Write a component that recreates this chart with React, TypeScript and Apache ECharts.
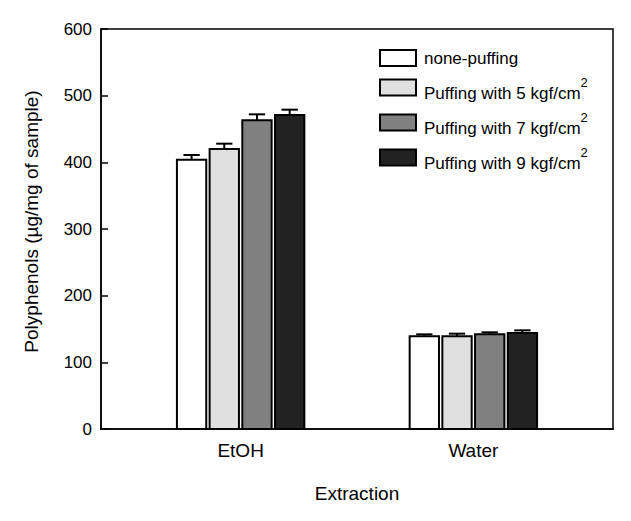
import React, { useEffect, useRef } from "react";
import * as echarts from "echarts";

const categories = ["EtOH", "Water"];
const seriesNames = ["none-puffing", "Puffing with 5 kgf/cm", "Puffing with 7 kgf/cm", "Puffing with 9 kgf/cm"];
const nonePuffing = [404, 139];
const puff5 = [420, 139];
const puff7 = [463, 142];
const puff9 = [471, 144];
const errNone = [7, 3];
const err5 = [8, 4];
const err7 = [9, 3];
const err9 = [8, 4];
const yTicks = [0, 100, 200, 300, 400, 500, 600];

const colors = ["#ffffff", "#e0e0e0", "#808080", "#222222"];
const FONT = "'Liberation Sans', Arial, sans-serif";

export default function App() {
  const ref = useRef<HTMLDivElement>(null);
  useEffect(() => {
    if (!ref.current) return;
    const chart = echarts.init(ref.current, null, { renderer: "svg" });
    const values = [nonePuffing, puff5, puff7, puff9];
    const errs = [errNone, err5, err7, err9];
    const pitch = 0.1405;
    const barFrac = 0.126;
    const capFrac = 0.07;

    const makeRender = (s: number) => (params: any, api: any) => {
      const x = api.value(0);
      const v = api.value(1);
      const e = api.value(2);
      const unit = api.size([1, 0])[0];
      const cx = api.coord([x, 0])[0] + (s - 1.5) * pitch * unit;
      const base = api.coord([x, 0])[1];
      const top = api.coord([x, v])[1];
      const errTop = api.coord([x, v + e])[1];
      const w = barFrac * unit;
      const cap = capFrac * unit;
      return {
        type: "group",
        children: [
          {
            type: "line",
            shape: { x1: cx, y1: top, x2: cx, y2: errTop },
            style: { stroke: "#000", lineWidth: 2 },
          },
          {
            type: "line",
            shape: { x1: cx - cap / 2, y1: errTop, x2: cx + cap / 2, y2: errTop },
            style: { stroke: "#000", lineWidth: 2 },
          },
          {
            type: "rect",
            shape: { x: cx - w / 2, y: top, width: w, height: base - top },
            style: { fill: colors[s], stroke: "#000", lineWidth: 2 },
          },
        ],
      };
    };

    const series = values.map((vals, s) => ({
      type: "custom",
      name: seriesNames[s],
      renderItem: makeRender(s),
      itemStyle: { color: colors[s], borderColor: "#000", borderWidth: 2 },
      encode: { x: 0, y: 1 },
      data: vals.map((v, i) => [i + 1, v, errs[s][i]]),
      z: 3,
    }));

    chart.setOption({
      animation: false,
      textStyle: { fontFamily: FONT, color: "#000" },
      grid: {
        left: 101,
        top: 29,
        right: 18,
        bottom: 92,
        show: true,
        borderColor: "#000",
        borderWidth: 1.5,
        backgroundColor: "transparent",
        z: 10,
      },
      legend: {
        orient: "vertical",
        left: 374,
        top: 44,
        icon: "rect",
        itemWidth: 36,
        itemHeight: 16,
        itemGap: 6,
        itemStyle: { borderColor: "#000", borderWidth: 2 },
        selectedMode: false,
        data: seriesNames.map((n, i) => ({ name: n, itemStyle: { color: colors[i] } })),
        formatter: (name: string) =>
          name === seriesNames[0] ? `{a|${name}}` : `{b|${name}}{s|2}`,
        textStyle: {
          fontFamily: FONT,
          color: "#000",
          fontSize: 17,
          rich: {
            a: { fontFamily: FONT, fontSize: 17, color: "#000", padding: [0, 0, 0, 3] },
            b: {
              fontFamily: FONT,
              fontSize: 17,
              color: "#000",
              padding: [0, 0, 0, 3],
              lineHeight: 29,
              verticalAlign: "bottom",
            },
            s: {
              fontFamily: FONT,
              fontSize: 13,
              color: "#000",
              lineHeight: 29,
              verticalAlign: "top",
              padding: [3, 0, 0, 0],
            },
          },
        },
      },
      xAxis: {
        type: "value",
        min: 0.4,
        max: 2.6,
        name: "Extraction",
        nameLocation: "middle",
        nameGap: 55,
        nameTextStyle: { fontFamily: FONT, fontSize: 19, color: "#000" },
        axisLine: { show: true, lineStyle: { color: "#000", width: 1.5 } },
        axisTick: { show: false },
        splitLine: { show: false },
        axisLabel: {
          customValues: [1, 2],
          formatter: (v: number) => categories[Math.round(v) - 1] ?? "",
          fontFamily: FONT,
          fontSize: 19,
          color: "#000",
          margin: 12,
        },
      },
      yAxis: {
        type: "value",
        min: yTicks[0],
        max: yTicks[yTicks.length - 1],
        interval: 100,
        name: "Polyphenols (µg/mg of sample)",
        nameLocation: "middle",
        nameGap: 60,
        nameTextStyle: { fontFamily: FONT, fontSize: 19, color: "#000", padding: [0, 0, 0, 15] },
        axisLine: { show: true, lineStyle: { color: "#000", width: 1.5 } },
        axisTick: { show: true, inside: true, length: 7, lineStyle: { color: "#000", width: 1.5 } },
        splitLine: { show: false },
        axisLabel: { fontFamily: FONT, fontSize: 17, color: "#000", margin: 9 },
      },
      series,
    });
    return () => chart.dispose();
  }, []);
  return (
    <div
      ref={ref}
      style={{ position: "absolute", left: 0, top: 0, width: 631, height: 521, background: "#fff" }}
    />
  );
}
